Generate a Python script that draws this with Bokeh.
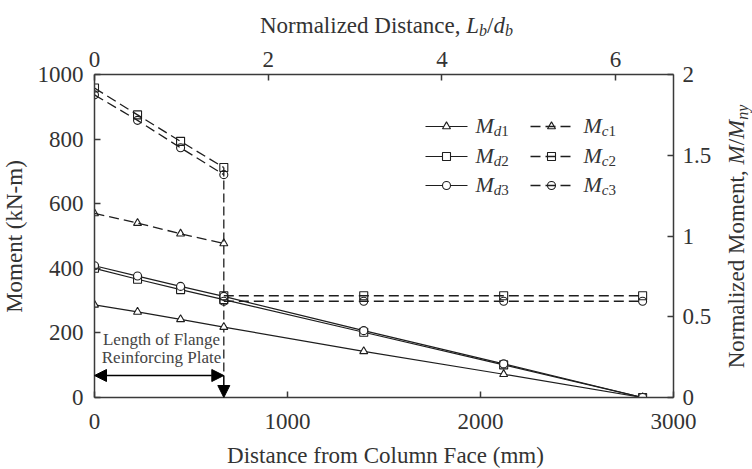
import math

from bokeh.embed import file_html
from bokeh.layouts import column, row
from bokeh.models import (Arrow, CustomJSTickFormatter, FixedTicker, Label,
                          LinearAxis, NormalHead, Range1d)
from bokeh.plotting import figure
from bokeh.resources import INLINE

# ---- data -------------------------------------------------------------
# distance from column face (mm) at the measurement stations
x_pos = [0, 223, 446, 670, 1395, 2120, 2840]
# demand moments (kN-m)
Md1 = [287, 265, 242, 218, 143, 72, 0]
Md2 = [400, 366, 334, 303, 202, 101, 0]
Md3 = [408, 376, 344, 313, 207, 104, 0]
# capacity moments over the reinforcing plate (kN-m)
x_plate = [0, 223, 446, 670]
Mc1 = [570, 540, 507, 477]
Mc2 = [958, 875, 793, 712]
Mc3 = [937, 858, 773, 690]
# capacity moments past the end of the plate (kN-m)
x_beyond = [670, 1395, 2120, 2840]
Mc2_beyond = [315, 315, 315, 315]
Mc3_beyond = [298, 298, 298, 298]

plate_length = 670      # mm
d_b = 450               # beam depth, mm
M_ny = 500              # nominal yield moment, kN-m

x_ticks = [0, 1000, 2000, 3000]
y_ticks = [0, 200, 400, 600, 800, 1000]
top_ticks = [0, 2, 4, 6]
right_ticks = [0, 0.5, 1, 1.5, 2]

# ---- styling / layout -------------------------------------------------
FONT = "Liberation Serif"
INK = "#1e1e1e"
AXIS = "#3a3a3a"
TXT = "#333333"

W, H = 752, 469
TOP_H, BOT_H, LEFT_W, RIGHT_W = 39, 28, 30, 30
MAIN_W, MAIN_H = W - LEFT_W - RIGHT_W, H - TOP_H - BOT_H
# frame edges on the page
FX0, FX1, FY0, FY1 = 94, 673, 74, 397
FW, FH = FX1 - FX0, FY1 - FY0
BORDER_TOP = FY0 - TOP_H
BORDER_BOTTOM = H - BOT_H - FY1
X_MAX, Y_MAX = 3000, 1000


def dx(px):
    """page x pixel -> data x"""
    return (px - FX0) / FW * X_MAX


def dy(py):
    """page y pixel -> data y"""
    return (FY1 - py) / FH * Y_MAX


p = figure(width=MAIN_W, height=MAIN_H, title=None,
           x_range=Range1d(0, X_MAX), y_range=Range1d(0, Y_MAX),
           min_border_left=FX0 - LEFT_W, min_border_right=W - RIGHT_W - FX1,
           min_border_top=BORDER_TOP, min_border_bottom=BORDER_BOTTOM,
           x_axis_location=None, y_axis_location=None,
           output_backend="svg", toolbar_location=None)
p.grid.visible = False
p.outline_line_color = None

p.extra_x_ranges = {"norm": Range1d(0, X_MAX / d_b)}
p.extra_y_ranges = {"mny": Range1d(0, Y_MAX / M_ny)}


def style_axis(ax, standoff):
    ax.axis_line_color = AXIS
    ax.axis_line_width = 1.5
    ax.major_tick_line_color = AXIS
    ax.major_tick_line_width = 1.5
    ax.major_tick_in = 6
    ax.major_tick_out = 0
    ax.minor_tick_line_color = None
    ax.major_label_text_font = FONT
    ax.major_label_text_font_size = "23px"
    ax.major_label_text_color = TXT
    ax.major_label_standoff = standoff


ax_b = LinearAxis(ticker=FixedTicker(ticks=x_ticks))
ax_l = LinearAxis(ticker=FixedTicker(ticks=y_ticks))
ax_t = LinearAxis(x_range_name="norm", ticker=FixedTicker(ticks=top_ticks))
ax_r = LinearAxis(y_range_name="mny", ticker=FixedTicker(ticks=right_ticks),
                  formatter=CustomJSTickFormatter(code="return String(tick)"))
style_axis(ax_b, 16)
style_axis(ax_l, 11)
style_axis(ax_t, 8)
style_axis(ax_r, 9)
p.add_layout(ax_b, "below")
p.add_layout(ax_l, "left")
p.add_layout(ax_t, "above")
p.add_layout(ax_r, "right")

# ---- series -----------------------------------------------------------
DASH = "10 5"
MS = 8

# end of the flange reinforcing plate
p.line([plate_length, plate_length], [Mc2[-1], dy(375)],
       line_color=INK, line_width=1.3, line_dash="9 4")

for ys, mk in [(Md1, "triangle"), (Md2, "square"), (Md3, "circle")]:
    p.line(x_pos, ys, line_color=INK, line_width=1.2)
    p.scatter(x_pos, ys, marker=mk, size=MS, line_color=INK,
              line_width=1.1, fill_color="white")

for xs, ys, mk in [(x_plate, Mc1, "triangle"), (x_plate, Mc2, "square"),
                   (x_plate, Mc3, "circle"), (x_beyond, Mc2_beyond, "square"),
                   (x_beyond, Mc3_beyond, "circle")]:
    p.line(xs, ys, line_color=INK, line_width=1.3, line_dash=DASH)
    p.scatter(xs, ys, marker=mk, size=MS, line_color=INK,
              line_width=1.1, fill_color=None)

# ---- plate annotation -------------------------------------------------
head = dict(size=12, fill_color="black", line_color="black")
p.add_layout(Arrow(start=NormalHead(**head), end=NormalHead(**head),
                   x_start=0, y_start=dy(375), x_end=plate_length,
                   y_end=dy(375), line_color="black", line_width=1.5))
p.add_layout(Arrow(end=NormalHead(**head), x_start=plate_length,
                   y_start=dy(375), x_end=plate_length, y_end=0,
                   line_color="black", line_width=1.5))

# ---- rich text (italic symbols with subscripts) -----------------------
# advance widths (1/1000 em) of the Times-metric serif face
REG = {' ': 250, ',': 250, '-': 333, '(': 333, ')': 333, '/': 278,
       'N': 722, 'D': 722, 'M': 889, 'C': 667, 'F': 556, 'L': 611,
       'R': 667, 'P': 556,
       'a': 444, 'b': 500, 'c': 444, 'd': 500, 'e': 444, 'f': 333,
       'g': 500, 'h': 500, 'i': 278, 'k': 500, 'l': 278, 'm': 778,
       'n': 500, 'o': 500, 'r': 333, 's': 389, 't': 278, 'u': 500,
       'y': 500, 'z': 444}
ITA = {'M': 833, 'L': 556, 'b': 500, 'c': 444, 'd': 500, 'n': 500,
       'y': 444}
for ch in "0123456789":
    REG[ch] = 500


def text_width(s, size, italic):
    table = ITA if italic else REG
    return sum(table.get(ch, 500) for ch in s) / 1000 * size


def rich(fig, conv_x, conv_y, parts, px, py, align="left", vertical=False,
         color=TXT):
    """parts: (text, size, italic, shift below the line in px)"""
    widths = [text_width(t, s, it) for t, s, it, _ in parts]
    total = sum(widths)
    off = -total / 2 if align == "center" else 0
    for (t, s, it, sh), w in zip(parts, widths):
        if vertical:
            x, y, ang = conv_x(px + sh), conv_y(py - off), math.pi / 2
        else:
            x, y, ang = conv_x(px + off), conv_y(py + sh), 0
        fig.add_layout(Label(x=x, y=y, text=t, angle=ang, text_font=FONT,
                             text_font_size=f"{s}px",
                             text_font_style="italic" if it else "normal",
                             text_color=color, text_align="left",
                             text_baseline="alphabetic"))
        off += w


def strip(w, h, border_top=0, border_bottom=0):
    """blank panel whose data units are its frame pixels (y measured up)"""
    f = figure(frame_width=w, frame_height=h, title=None,
               x_range=Range1d(0, w), y_range=Range1d(0, h),
               min_border=0, min_border_left=0, min_border_right=0,
               min_border_top=border_top, min_border_bottom=border_bottom,
               x_axis_location=None, y_axis_location=None,
               output_backend="svg", toolbar_location=None)
    f.grid.visible = False
    f.outline_line_color = None
    return f


def in_strip(x0, y0, h):
    """page pixel -> strip data, for a frame whose top-left is (x0, y0)"""
    return (lambda px: px - x0), (lambda py: h - (py - y0))


top = strip(W, TOP_H)
bottom = strip(W, BOT_H)
# side panels use the same borders as the main plot, so frames line up
left = strip(LEFT_W, FH, BORDER_TOP, BORDER_BOTTOM)
right = strip(RIGHT_W, FH, BORDER_TOP, BORDER_BOTTOM)

cx, cy = in_strip(0, 0, TOP_H)
rich(top, cx, cy,
     [("Normalized Distance, ", 23, False, 0), ("L", 23, True, 0),
      ("b", 16, True, 5), ("/", 23, False, 0), ("d", 23, True, 0),
      ("b", 16, True, 5)], 386, 25, align="center")
cx, cy = in_strip(0, H - BOT_H, BOT_H)
rich(bottom, cx, cy, [("Distance from Column Face (mm)", 23, False, 0)],
     385, 455, align="center")
cx, cy = in_strip(0, FY0, FH)
rich(left, cx, cy, [("Moment (kN-m)", 23, False, 0)],
     14, 236, align="center", vertical=True)
cx, cy = in_strip(LEFT_W + MAIN_W, FY0, FH)
rich(right, cx, cy,
     [("Normalized Moment, ", 23, False, 0), ("M", 23, True, 0),
      ("/", 23, False, 0), ("M", 23, True, 0), ("ny", 16, True, 6)],
     736, 236, align="center", vertical=True)

for txt, py in [("Length of Flange", 339), ("Reinforcing Plate", 357)]:
    rich(p, dx, dy, [(txt, 17, False, 0)], 161, py, align="center",
         color="#444444")

# ---- legend -----------------------------------------------------------
legend_rows = [("triangle", "1"), ("square", "2"), ("circle", "3")]
row_y = [126, 156, 185]
for (mk, num), ry in zip(legend_rows, row_y):
    # demand (solid)
    p.line([dx(425), dx(467)], [dy(ry), dy(ry)], line_color=INK,
           line_width=1.2)
    p.scatter([dx(446)], [dy(ry)], marker=mk, size=MS, line_color=INK,
              line_width=1.1, fill_color="white")
    rich(p, dx, dy, [("M", 22, True, 0), ("d", 15, True, 5),
                     (num, 15, False, 5)], 475, ry - 1)
    # capacity (dashed)
    p.line([dx(530), dx(572)], [dy(ry), dy(ry)], line_color=INK,
           line_width=1.3, line_dash=DASH)
    p.scatter([dx(551)], [dy(ry)], marker=mk, size=MS, line_color=INK,
              line_width=1.1, fill_color=None)
    rich(p, dx, dy, [("M", 22, True, 0), ("c", 15, True, 5),
                     (num, 15, False, 5)], 583, ry - 1)

page = column(top, row(left, p, right), bottom)
open("out.html", "w").write(file_html(page, INLINE))
